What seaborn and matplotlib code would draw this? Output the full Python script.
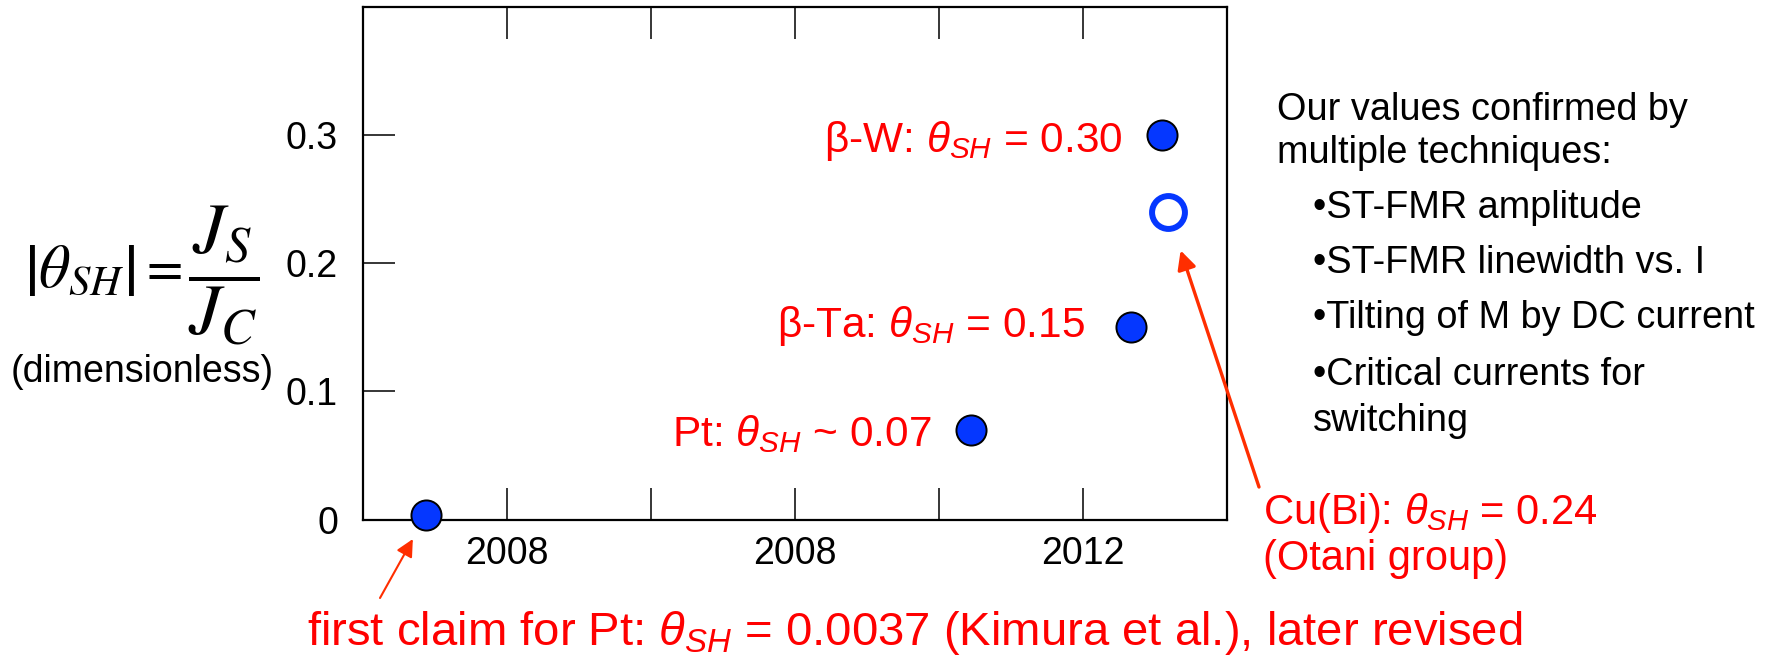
import matplotlib
matplotlib.use("Agg")
import matplotlib.pyplot as plt
import seaborn as sns
import pandas as pd

# ---- data ----
materials = ["Pt (Kimura)", "Pt", "β-Ta", "β-W", "Cu(Bi)"]
years = [2007.44, 2011.22, 2012.33, 2012.55, 2012.59]
theta_sh = [0.0037, 0.07, 0.15, 0.30, 0.24]
filled = [True, True, True, True, False]

x_ticks = [2008, 2009, 2010, 2011, 2012]
x_tick_labels = ["2008", "", "2008", "", "2012"]
y_ticks = [0, 0.1, 0.2, 0.3]
y_tick_labels = ["0", "0.1", "0.2", "0.3"]

point_labels = {
    "β-W": r"β-W: $\theta_{SH}$ = 0.30",
    "β-Ta": r"β-Ta: $\theta_{SH}$ = 0.15",
    "Pt": r"Pt: $\theta_{SH}$ ~ 0.07",
}

notes = [
    "Our values confirmed by",
    "multiple techniques:",
    "•ST-FMR amplitude",
    "•ST-FMR linewidth vs. I",
    "•Tilting of M by DC current",
    "•Critical currents for",
    "switching",
]

df = pd.DataFrame({"material": materials, "year": years,
                   "theta": theta_sh, "filled": filled})

# ---- style ----
sns.set_theme(style="white")
plt.rcParams["font.family"] = ["Liberation Sans", "DejaVu Sans"]
plt.rcParams["mathtext.fontset"] = "custom"
plt.rcParams["mathtext.rm"] = "Liberation Sans"
plt.rcParams["mathtext.it"] = "Liberation Sans:italic"
plt.rcParams["mathtext.bf"] = "Liberation Sans:bold"

W, H = 1769, 662
BLUE = "#0537ff"
RED = "#ff0000"
ARROW = "#ff2e00"


def fig_xy(px, py):
    """Pixel position (from top-left) to figure fraction."""
    return px / W, 1 - py / H


fig = plt.figure(figsize=(W / 100, H / 100), dpi=100)
ax = fig.add_axes([363 / W, 1 - 519.5 / H, (1227 - 363) / W, (519.5 - 7.3) / H])

sns.scatterplot(data=df[df["filled"]], x="year", y="theta", ax=ax,
                s=470, color=BLUE, edgecolor="black", linewidth=1.4,
                zorder=3, legend=False, clip_on=False)
sns.scatterplot(data=df[~df["filled"]], x="year", y="theta", ax=ax,
                s=560, color="white", edgecolor=BLUE, linewidth=4.3,
                zorder=3, legend=False, clip_on=False)

ax.set_xlim(2007, 2013)
ax.set_ylim(0, 0.4)
ax.set_xticks(x_ticks)
ax.set_xticklabels(x_tick_labels)
ax.set_yticks(y_ticks)
ax.set_yticklabels(y_tick_labels)
ax.set_xlabel("")
ax.set_ylabel("")
ax.tick_params(axis="x", direction="in", length=23, width=1.1, top=True,
               bottom=True, labelsize=27, pad=12, colors="black")
ax.tick_params(axis="y", direction="in", length=23, width=1.1, left=True,
               right=False, labelsize=27, pad=18, colors="black")
for sp in ax.spines.values():
    sp.set_visible(True)
    sp.set_color("black")
    sp.set_linewidth(1.6)

# labels beside the points (offsets in pixels)
label_offsets = {"β-W": (-40, -17), "β-Ta": (-46, -10), "Pt": (-39, -16)}
for key, text in point_labels.items():
    row = df[df["material"] == key].iloc[0]
    dx, dy = label_offsets[key]
    ax.annotate(text, xy=(row["year"], row["theta"]), xytext=(dx, dy),
                textcoords="offset pixels", ha="right", va="baseline",
                fontsize=30.5, color=RED)

# arrows from the side notes to the points
first = df[df["material"] == "Pt (Kimura)"].iloc[0]
ax.annotate("", xy=(first["year"], first["theta"]), xytext=(380, H - 598),
            textcoords="figure pixels",
            arrowprops=dict(arrowstyle="-|>", color=ARROW, lw=1.5,
                            shrinkA=0, shrinkB=20, mutation_scale=26),
            annotation_clip=False)
cubi = df[df["material"] == "Cu(Bi)"].iloc[0]
ax.annotate("", xy=(cubi["year"], cubi["theta"]), xytext=(1259, H - 487),
            textcoords="figure pixels",
            arrowprops=dict(arrowstyle="-|>", color=ARROW, lw=2.4,
                            shrinkA=0, shrinkB=29, mutation_scale=28),
            annotation_clip=False)

fig.text(*fig_xy(1263, 524), r"Cu(Bi): $\theta_{SH}$ = 0.24", fontsize=30,
         color=RED, ha="left", va="baseline")
fig.text(*fig_xy(1263, 570), "(Otani group)", fontsize=30, color=RED,
         ha="left", va="baseline")
fig.text(*fig_xy(307, 645),
         r"first claim for Pt: $\theta_{SH}$ = 0.0037 (Kimura et al.), later revised",
         fontsize=34, color=RED, ha="left", va="baseline")

# y-axis quantity |theta_SH| = J_S / J_C
fig.text(*fig_xy(135, 272), r"$\left|\theta_{SH}\right|$",
         fontsize=44, ha="right", va="center", math_fontfamily="stix",
         color="black")
fig.text(*fig_xy(161, 270), r"$=$",
         fontsize=38, ha="center", va="center", math_fontfamily="stix",
         color="black")
fig.text(*fig_xy(224, 275), r"$\dfrac{J_S}{J_C}$",
         fontsize=52, ha="center", va="center", math_fontfamily="stix",
         color="black")
fig.text(*fig_xy(142, 372), "(dimensionless)", fontsize=27, ha="center",
         va="center", color="black")

# side notes
note_pos = [(1277, 120), (1277, 163), (1313, 218), (1313, 273),
            (1313, 328), (1313, 385), (1313, 431)]
for text, (px, py) in zip(notes, note_pos):
    fig.text(*fig_xy(px, py), text, fontsize=27.3, ha="left",
             va="baseline", color="black")

fig.savefig("out.png", dpi=100)
